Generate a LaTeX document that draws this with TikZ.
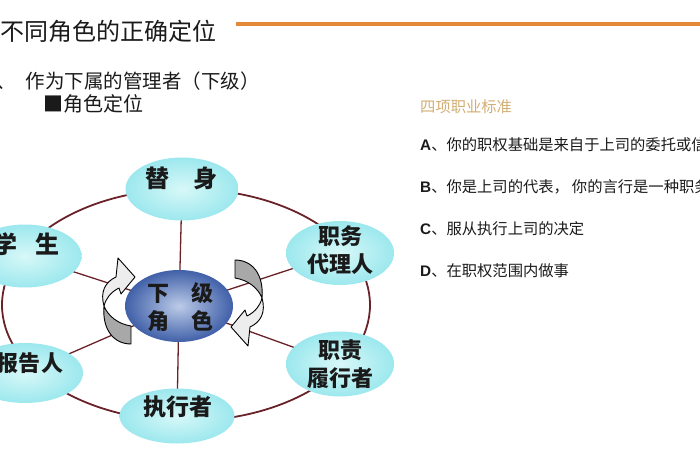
\documentclass[tikz,border=0pt]{standalone}
\usepackage{fontspec}
\setmainfont{Noto Sans CJK SC}
\newfontfamily\latinsans{Liberation Sans}
\usetikzlibrary{shapes.geometric, positioning, backgrounds}
\definecolor{inkcolor}{HTML}{1A1A1A}
\definecolor{ringcolor}{HTML}{6A2228}
\definecolor{rulecolor}{HTML}{E4883A}
\definecolor{headcolor}{HTML}{D2AE74}
\definecolor{rolefill}{HTML}{9CE8EE}
\definecolor{roleinner}{HTML}{D8F8F8}
\definecolor{corefill}{HTML}{4060A8}
\definecolor{coreinner}{HTML}{BCCBE8}
\definecolor{turnfill}{HTML}{A8A8A8}
\definecolor{turnlight}{HTML}{EDEDED}

\begin{document}
\begin{tikzpicture}[
  x=1pt, y=-1pt,
  every node/.style={inner sep=0pt, text=inkcolor},
  align=center,
]

\tikzset{
  role/.style={ellipse, inner color=roleinner, outer color=rolefill,
    minimum width=113pt, minimum height=63pt},
  core/.style={ellipse, inner color=coreinner, outer color=corefill,
    minimum width=108pt, minimum height=72pt},
  rolelabel/.style={font=\bfseries\fontsize{22}{28}\selectfont},
  std/.style={anchor=west, font=\fontsize{15.3}{18}\selectfont},
  ringline/.style={ringcolor, line width=1.8pt},
  spoke/.style={ringcolor, line width=1.3pt},
  turnarrow/.style={draw=black, line width=0.9pt, line join=round},
}

% front face (head) and back face (tail) of a turning arrow
\newcommand{\turnhead}{
  (104,306) .. controls (100,292) and (105,282) .. (116,277)
  -- (118,258) -- (135,277) -- (121,294) -- (119,288)
  .. controls (111,292) and (106,298) .. (104,306) -- cycle
}
\newcommand{\turntail}{
  (104,306) .. controls (102,330) and (114,344) .. (131,344)
  -- (131,326) .. controls (118,324) and (108,316) .. (104,306) -- cycle
}

\useasboundingbox (0,0) rectangle (700,470);

% ---------------------------------------------------------------
% Heading
% ---------------------------------------------------------------
\node[anchor=west, font=\fontsize{24}{28}\selectfont] (title) at (0,31) {不同角色的正确定位};
\draw[rulecolor, line width=4pt] (236,24) -- (700,24);
\node[anchor=west, font=\fontsize{19.5}{24}\selectfont] (sub) at (-4,81)
  {、\hspace{10pt}作为下属的管理者（下级）};
\node[anchor=west, font=\fontsize{20}{24}\selectfont] (pos) at (43,104) {■角色定位};

% ---------------------------------------------------------------
% Role wheel
% ---------------------------------------------------------------
\node[core] (core) at (179,306) {};
\node[role] (stand)  at (182,189) {};
\node[role] (pupil)  at (25,256)  {};
\node[role, minimum width=108pt, minimum height=64pt] (agent) at (340,253) {};
\node[role, minimum width=108pt, minimum height=65pt] (duty)  at (340,364) {};
\node[role, minimum width=115pt, minimum height=55pt] (doer)  at (177,416) {};
\node[role, minimum width=116pt, minimum height=60pt] (report) at (25,373) {};

\node[rolelabel] (coreTxt)   at (180,307) {下\quad 级\\角\quad 色};
\node[rolelabel, font=\bfseries\fontsize{24}{28}\selectfont] (standTxt) at (181,178) {替\quad 身};
\node[rolelabel, font=\bfseries\fontsize{24}{28}\selectfont] (pupilTxt) at (27,244) {学\hspace{18pt}生};
\node[rolelabel] (agentTxt)  at (340,250) {职务\\代理人};
\node[rolelabel] (dutyTxt)   at (340,364) {职责\\履行者};
\node[rolelabel, font=\bfseries\fontsize{23}{28}\selectfont] (doerTxt) at (178,407) {执行者};
\node[rolelabel] (reportTxt) at (30,363) {报告人};

\begin{scope}[on background layer]
  \draw[ringline] (186,305) ellipse [x radius=184, y radius=116];
  \foreach \r in {stand, pupil, agent, duty, doer, report}
    \draw[spoke] (core.center) -- (\r.center);
\end{scope}

% turning arrows round the core
\draw[turnarrow, fill=turnfill] \turntail;
\draw[turnarrow, fill=turnlight] \turnhead;
\begin{scope}[rotate around={180:(183,302)}]
  \draw[turnarrow, fill=turnfill] \turntail;
  \draw[turnarrow, fill=turnlight] \turnhead;
\end{scope}

% ---------------------------------------------------------------
% Four standards
% ---------------------------------------------------------------
\node[std, text=headcolor] (stdHead) at (420,107) {四项职业标准};
\node[std] (stdA) at (420,145) {{\latinsans\bfseries A}、你的职权基础是来自于上司的委托或信};
\node[std, below=42pt of stdA.west, anchor=west] (stdB)
  {{\latinsans\bfseries B}、你是上司的代表，\hspace{3pt}你的言行是一种职务};
\node[std, below=42pt of stdB.west, anchor=west] (stdC)
  {{\latinsans\bfseries C}、服从执行上司的决定};
\node[std, below=42pt of stdC.west, anchor=west] (stdD)
  {{\latinsans\bfseries D}、在职权范围内做事};

\end{tikzpicture}
\end{document}
